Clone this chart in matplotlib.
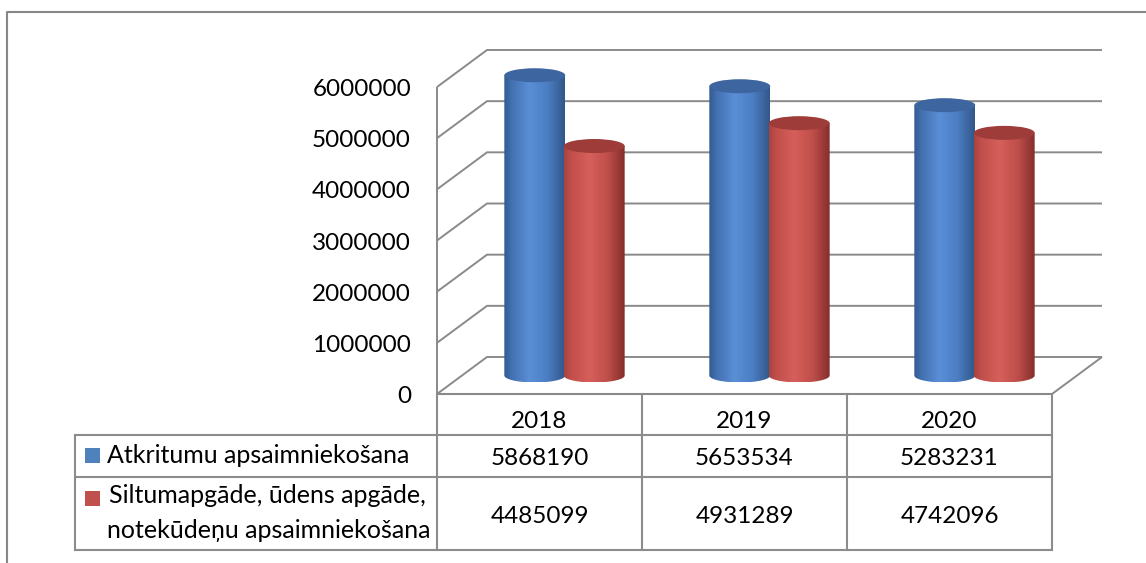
import numpy as np
import matplotlib
matplotlib.use("Agg")
import matplotlib.pyplot as plt
from matplotlib.patches import Ellipse, PathPatch, Rectangle
from matplotlib.path import Path
from matplotlib.colors import LinearSegmentedColormap

years = ["2018", "2019", "2020"]
waste = [5868190, 5653534, 5283231]
heat = [4485099, 4931289, 4742096]
name_waste = "Atkritumu apsaimniekošana"
name_heat = ["Siltumapgāde, ūdens apgāde,", "notekūdeņu apsaimniekošana"]
y_ticks = [0, 1000000, 2000000, 3000000, 4000000, 5000000, 6000000]

plt.rcParams["font.family"] = ["Lato", "DejaVu Sans"]
fs = 17.5      # numbers
fs_leg = 18    # legend names

W, H = 1146, 563
fig = plt.figure(figsize=(W / 100, H / 100), dpi=100)

# overlay in pixel units for frame, table and labels
lay = fig.add_axes([0, 0, 1, 1])
lay.set_xlim(0, W)
lay.set_ylim(H, 0)
lay.axis("off")

# front plane of the 3d chart: x 437..1052 px for 3 categories, 0 at y=394, 6e6 at y=87
X0, X1 = 437, 1052
Y0, Y6 = 394, 87
sx = (X1 - X0) / 3          # px per category
sy = (Y0 - Y6) / 6e6        # px per unit
xmax, ymax = 3.4, 7.2e6
ax = fig.add_axes([X0 / W, 1 - Y0 / H, xmax * sx / W, ymax * sy / H])
ax.axis("off")

DX = 50 / sx
DY = 37 / sy

grid = dict(color="#8a8a8a", lw=1.4, clip_on=False, solid_capstyle="butt", zorder=1)
for v in y_ticks:
    ax.plot([0, DX, 3 + DX], [v, v + DY, v + DY], **grid)
ax.plot([0, 0], [0, 6e6], **grid)
ax.plot([3, 3 + DX], [0, DY], **grid)
ax.plot([0, 3], [0, 0], **grid)

blue_cm = LinearSegmentedColormap.from_list(
    "b", [(0, "#33598f"), (0.12, "#4370b0"), (0.42, "#5a8fd7"), (0.72, "#4b7dc2"), (1, "#325789")])
red_cm = LinearSegmentedColormap.from_list(
    "r", [(0, "#a8433f"), (0.12, "#c24f4b"), (0.42, "#d65f5a"), (0.72, "#bf4e4a"), (1, "#842e2c")])
tops = ["#3d659f", "#9e3c39"]
cmaps = [blue_cm, red_cm]

cw = 0.297
eh = 14 / sy
grad = np.linspace(0, 1, 256).reshape(1, -1)
t = np.linspace(np.pi, 2 * np.pi, 60)
z = 2
for i in range(3):
    for s, vals in enumerate([waste, heat]):
        xc = i + 0.5 + (s - 0.5) * 0.29 + DX / 2
        yb = DY / 2
        top = vals[i] + DY / 2
        arc = np.column_stack([xc + cw / 2 * np.cos(t), yb + eh / 2 * np.sin(t)])
        verts = np.vstack([[xc - cw / 2, top], arc, [xc + cw / 2, top], [xc - cw / 2, top]])
        clip = PathPatch(Path(verts), transform=ax.transData, facecolor="none", edgecolor="none")
        ax.add_patch(clip)
        im = ax.imshow(grad, cmap=cmaps[s], extent=(xc - cw / 2, xc + cw / 2, yb - eh / 2, top),
                       aspect="auto", interpolation="bilinear", zorder=z)
        im.set_clip_path(clip)
        ax.add_patch(Ellipse((xc, top), cw, eh, facecolor=tops[s], edgecolor="none", zorder=z + 1))
        z += 2

ax.set_xlim(0, xmax)
ax.set_ylim(0, ymax)

# y labels
for v in y_ticks:
    lay.text(411, Y0 - v * sy + 9, str(v), ha="right", va="baseline", fontsize=fs)

# data table
tk = dict(color="#8c8c8c", lw=1.5, solid_capstyle="projecting")
lay.plot([X0, X1], [Y0, Y0], **tk)
for yy in [435, 477, 550]:
    lay.plot([75, X1], [yy, yy], **tk)
lay.plot([75, 75], [435, 550], **tk)
for k in range(4):
    lay.plot([X0 + k * sx] * 2, [Y0, 550], **tk)

for i in range(3):
    cx = X0 + (i + 0.5) * sx
    lay.text(cx, 428, years[i], ha="center", va="baseline", fontsize=fs)
    lay.text(cx, 465, str(waste[i]), ha="center", va="baseline", fontsize=fs)
    lay.text(cx, 523, str(heat[i]), ha="center", va="baseline", fontsize=fs)

lay.add_patch(Rectangle((85, 448), 15, 15, facecolor="#4f81bd", edgecolor="none"))
lay.add_patch(Rectangle((85, 491), 15, 15, facecolor="#c0504d", edgecolor="none"))
lay.text(107, 463, name_waste, ha="left", va="baseline", fontsize=fs_leg)
lay.text(109, 503, name_heat[0], ha="left", va="baseline", fontsize=fs_leg)
lay.text(107, 538, name_heat[1], ha="left", va="baseline", fontsize=fs_leg)

# outer frame
lay.plot([7, 7, W], [H, 12, 12], color="#878787", lw=1.5)

fig.savefig("out.png", dpi=100)
